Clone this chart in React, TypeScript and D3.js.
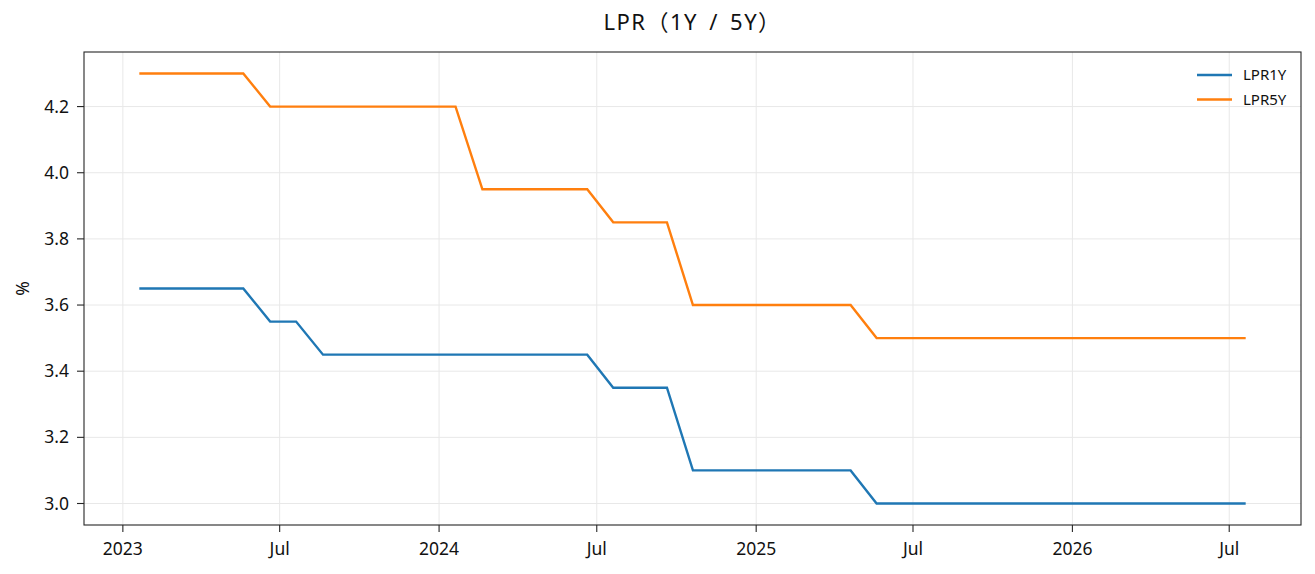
import React from "react";
import * as d3 from "d3";

// Monthly LPR fixings (published on the 20th of each month)
const months: string[] = [
  "2023-01", "2023-02", "2023-03", "2023-04", "2023-05", "2023-06", "2023-07", "2023-08", "2023-09", "2023-10", "2023-11", "2023-12",
  "2024-01", "2024-02", "2024-03", "2024-04", "2024-05", "2024-06", "2024-07", "2024-08", "2024-09", "2024-10", "2024-11", "2024-12",
  "2025-01", "2025-02", "2025-03", "2025-04", "2025-05", "2025-06", "2025-07", "2025-08", "2025-09", "2025-10", "2025-11", "2025-12",
  "2026-01", "2026-02", "2026-03", "2026-04", "2026-05", "2026-06", "2026-07",
];

const lpr1y: number[] = [
  3.65, 3.65, 3.65, 3.65, 3.65, 3.55, 3.55, 3.45, 3.45, 3.45, 3.45, 3.45,
  3.45, 3.45, 3.45, 3.45, 3.45, 3.45, 3.35, 3.35, 3.35, 3.1, 3.1, 3.1,
  3.1, 3.1, 3.1, 3.1, 3.0, 3.0, 3.0, 3.0, 3.0, 3.0, 3.0, 3.0,
  3.0, 3.0, 3.0, 3.0, 3.0, 3.0, 3.0,
];

const lpr5y: number[] = [
  4.3, 4.3, 4.3, 4.3, 4.3, 4.2, 4.2, 4.2, 4.2, 4.2, 4.2, 4.2,
  4.2, 3.95, 3.95, 3.95, 3.95, 3.95, 3.85, 3.85, 3.85, 3.6, 3.6, 3.6,
  3.6, 3.6, 3.6, 3.6, 3.5, 3.5, 3.5, 3.5, 3.5, 3.5, 3.5, 3.5,
  3.5, 3.5, 3.5, 3.5, 3.5, 3.5, 3.5,
];

const yTicks: number[] = [3.0, 3.2, 3.4, 3.6, 3.8, 4.0, 4.2];
const xTickDates: string[] = ["2023-01-01", "2023-07-01", "2024-01-01", "2024-07-01", "2025-01-01", "2025-07-01", "2026-01-01", "2026-07-01"];
const xTickLabels: string[] = ["2023", "Jul", "2024", "Jul", "2025", "Jul", "2026", "Jul"];

const seriesNames = ["LPR1Y", "LPR5Y"];
const seriesColors = ["#1f77b4", "#ff7f0e"];
const title = "LPR（1Y / 5Y）";

const W = 1315;
const H = 574;
const margin = { left: 84, right: 14, top: 52, bottom: 49 };
const FONT = "'Noto Sans', 'Noto Sans CJK SC', 'DejaVu Sans', sans-serif";

export default function App() {
  const parse = d3.utcParse("%Y-%m-%d");
  const dates = months.map((m) => parse(m + "-20") as Date);

  const x0 = dates[0].getTime();
  const x1 = dates[dates.length - 1].getTime();
  const xPad = (x1 - x0) * 0.05;
  const x = d3
    .scaleUtc()
    .domain([new Date(x0 - xPad), new Date(x1 + xPad)])
    .range([margin.left, W - margin.right]);

  const all = [...lpr1y, ...lpr5y];
  const yMin = d3.min(all) as number;
  const yMax = d3.max(all) as number;
  const yPad = (yMax - yMin) * 0.05;
  const y = d3
    .scaleLinear()
    .domain([yMin - yPad, yMax + yPad])
    .range([H - margin.bottom, margin.top]);

  const line = d3
    .line<number>()
    .x((_, i) => x(dates[i]))
    .y((v) => y(v));

  const series = [lpr1y, lpr5y];
  const plotL = margin.left;
  const plotR = W - margin.right;
  const plotT = margin.top;
  const plotB = H - margin.bottom;
  const tickLen = 7;

  return (
    <svg width={W} height={H} style={{ display: "block", position: "absolute", left: 0, top: 0 }} fontFamily={FONT}>
      <rect width={W} height={H} fill="#ffffff" />
      <text
        x={(plotL + plotR) / 2}
        y={29.5}
        textAnchor="middle"
        fontSize={22}
        letterSpacing={1.5}
        wordSpacing={4}
        fill="#111"
      >
        {title}
      </text>

      {/* grid */}
      <g stroke="#e8e8e8" strokeWidth={1}>
        {yTicks.map((t) => (
          <line key={"gy" + t} x1={plotL} x2={plotR} y1={y(t)} y2={y(t)} />
        ))}
        {xTickDates.map((d) => {
          const xx = x(parse(d) as Date);
          return <line key={"gx" + d} x1={xx} x2={xx} y1={plotT} y2={plotB} />;
        })}
      </g>

      {/* series */}
      {series.map((s, i) => (
        <path key={seriesNames[i]} d={line(s) || ""} fill="none" stroke={seriesColors[i]} strokeWidth={2.4} strokeLinejoin="miter" />
      ))}

      {/* frame */}
      <rect x={plotL} y={plotT} width={plotR - plotL} height={plotB - plotT} fill="none" stroke="#262626" strokeWidth={1.1} />

      {/* y axis */}
      {yTicks.map((t) => (
        <g key={"ty" + t}>
          <line x1={plotL - tickLen} x2={plotL} y1={y(t)} y2={y(t)} stroke="#262626" strokeWidth={1.1} />
          <text x={plotL - 15} y={y(t)} dy="0.35em" textAnchor="end" fontSize={17.5} fill="#111">
            {t.toFixed(1)}
          </text>
        </g>
      ))}
      <text transform={`translate(29,${(plotT + plotB) / 2}) rotate(-90)`} textAnchor="middle" fontSize={17.5} fill="#111">
        %
      </text>

      {/* x axis */}
      {xTickDates.map((d, i) => {
        const xx = x(parse(d) as Date);
        return (
          <g key={"tx" + d}>
            <line x1={xx} x2={xx} y1={plotB} y2={plotB + tickLen} stroke="#262626" strokeWidth={1.1} />
            <text x={xx} y={plotB + 30} textAnchor="middle" fontSize={17.5} fill="#111">
              {xTickLabels[i]}
            </text>
          </g>
        );
      })}

      {/* legend */}
      {seriesNames.map((n, i) => (
        <g key={"lg" + n} transform={`translate(1197,${75 + i * 24.5})`}>
          <line x1={0} x2={35} y1={0} y2={0} stroke={seriesColors[i]} strokeWidth={2.4} />
          <text x={46} y={0} dy="0.35em" fontSize={15} fill="#111">
            {n}
          </text>
        </g>
      ))}
    </svg>
  );
}
